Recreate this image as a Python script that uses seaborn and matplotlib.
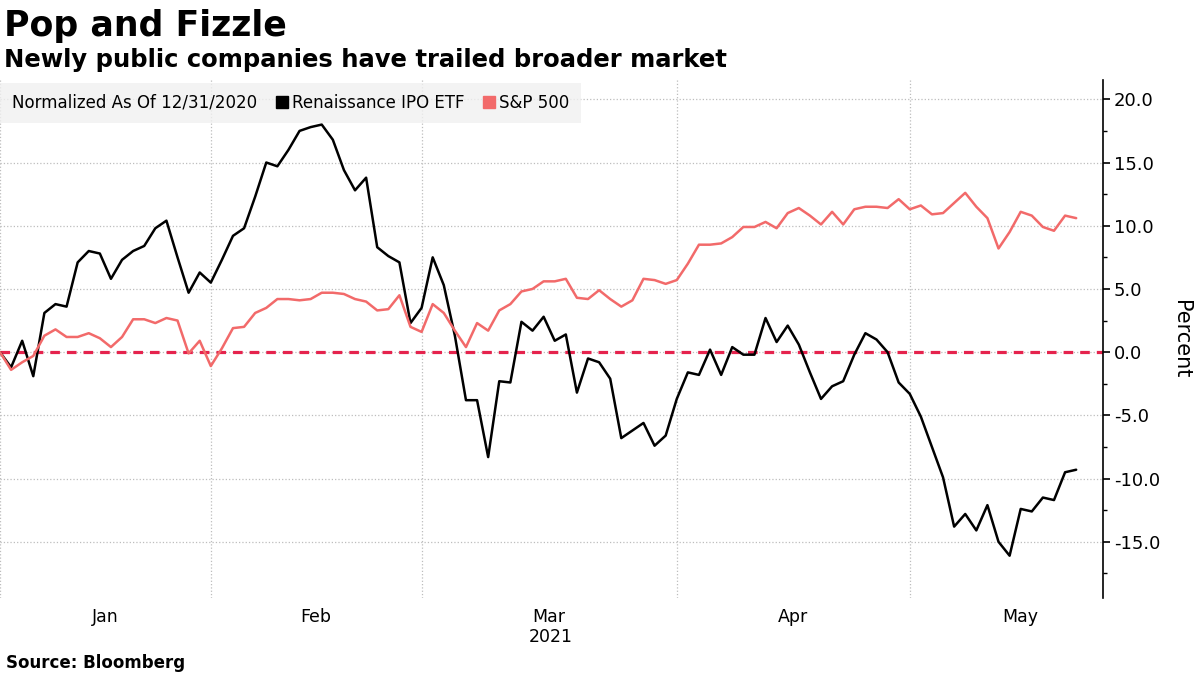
import pandas as pd
import matplotlib.pyplot as plt
import seaborn as sns
from matplotlib.lines import Line2D
from matplotlib.ticker import FixedLocator, MultipleLocator

# ============================================================
# Data: one point per trading day, normalized as of 12/31/2020 (percent)
# ============================================================
ipo_etf = [
    0.0, -1.2, 0.9, -1.9, 3.1, 3.8, 3.6, 7.1, 8.0, 7.8,
    5.8, 7.3, 8.0, 8.4, 9.8, 10.4, 7.5, 4.7, 6.3, 5.5,
    7.3, 9.2, 9.8, 12.3, 15.0, 14.7, 16.0, 17.5, 17.8, 18.0,
    16.8, 14.4, 12.8, 13.8, 8.3, 7.6, 7.1, 2.3, 3.5, 7.5,
    5.3, 1.3, -3.8, -3.8, -8.3, -2.3, -2.4, 2.4, 1.7, 2.8,
    0.9, 1.4, -3.2, -0.5, -0.8, -2.1, -6.8, -6.2, -5.6, -7.4,
    -6.6, -3.7, -1.6, -1.8, 0.2, -1.8, 0.4, -0.2, -0.2, 2.7,
    0.8, 2.1, 0.6, -1.6, -3.7, -2.7, -2.3, -0.2, 1.5, 1.0,
    0.0, -2.4, -3.3, -5.1, -7.5, -9.9, -13.8, -12.8, -14.1, -12.1,
    -15.0, -16.1, -12.4, -12.6, -11.5, -11.7, -9.5, -9.3,
]
sp500 = [
    0.0, -1.4, -0.8, -0.3, 1.3, 1.8, 1.2, 1.2, 1.5, 1.1,
    0.4, 1.2, 2.6, 2.6, 2.3, 2.7, 2.5, -0.1, 0.9, -1.1,
    0.3, 1.9, 2.0, 3.1, 3.5, 4.2, 4.2, 4.1, 4.2, 4.7,
    4.7, 4.6, 4.2, 4.0, 3.3, 3.4, 4.5, 2.0, 1.6, 3.8,
    3.1, 1.7, 0.4, 2.3, 1.7, 3.3, 3.8, 4.8, 5.0, 5.6,
    5.6, 5.8, 4.3, 4.2, 4.9, 4.2, 3.6, 4.1, 5.8, 5.7,
    5.4, 5.7, 7.0, 8.5, 8.5, 8.6, 9.1, 9.9, 9.9, 10.3,
    9.8, 11.0, 11.4, 10.8, 10.1, 11.1, 10.1, 11.3, 11.5, 11.5,
    11.4, 12.1, 11.3, 11.6, 10.9, 11.0, 11.8, 12.6, 11.5, 10.6,
    8.2, 9.5, 11.1, 10.8, 9.9, 9.6, 10.8, 10.6,
]
series_names = ['Renaissance IPO ETF', 'S&P 500']
month_labels = ['Jan', 'Feb', 'Mar', 'Apr', 'May']
month_starts = [0, 19, 38, 61, 82]      # trading-day index where each month begins
month_lengths = [19, 19, 23, 21, 20]    # trading days in each month
y_ticks = [-15, -10, -5, 0, 5, 10, 15, 20]

days = list(range(len(ipo_etf)))
df = pd.DataFrame({
    'day': days * 2,
    'value': ipo_etf + sp500,
    'series': [series_names[0]] * len(ipo_etf) + [series_names[1]] * len(sp500),
})

# ============================================================
# Plot
# ============================================================
sns.set_style('white')
plt.rcParams['font.family'] = ['DejaVu Sans']
plt.rcParams.update({'text.color': 'black', 'axes.labelcolor': 'black',
                     'xtick.color': 'black', 'ytick.color': 'black'})

BLACK = '#000000'
SALMON = '#f26a6a'
ZERO_RED = '#e5234d'
GRID = '#bdbdbd'

fig = plt.figure(figsize=(12, 6.75), dpi=100)
ax = fig.add_axes([0.0, 0.114, 0.919, 0.767])

ax.axhline(0, color=ZERO_RED, lw=2.3, ls=(0, (3, 2.2)), zorder=2)
sns.lineplot(data=df, x='day', y='value', hue='series', hue_order=series_names,
             palette=[BLACK, SALMON], linewidth=1.8, legend=False, ax=ax, zorder=3)

ax.set_xlim(0, 99.4)
ax.set_ylim(-19.45, 21.5)

# x axis: month gridlines at boundaries, labels centred in each month
ax.xaxis.set_minor_locator(FixedLocator(month_starts))
month_centres = [s + n / 2 for s, n in zip(month_starts, month_lengths)]
ax.set_xticks(month_centres)
ax.set_xticklabels(month_labels, fontsize=12.5)
ax.tick_params(axis='x', which='both', length=0, pad=7)
ax.grid(axis='x', which='minor', color=GRID, ls=':', lw=0.9)
ax.set_xlabel('')

# y axis on the right
ax.yaxis.tick_right()
ax.yaxis.set_label_position('right')
ax.set_yticks(y_ticks)
ax.set_yticklabels([f'{v:.1f}' for v in y_ticks], fontsize=13)
ax.yaxis.set_minor_locator(MultipleLocator(2.5))
ax.tick_params(axis='y', which='major', length=5, width=1.2, direction='out', pad=3)
ax.tick_params(axis='y', which='minor', length=3, width=1, direction='out')
ax.grid(axis='y', which='major', color=GRID, ls=':', lw=0.9)
ax.set_ylabel('Percent', fontsize=15, rotation=270, labelpad=22)

for side in ['top', 'left', 'bottom']:
    ax.spines[side].set_visible(False)
ax.spines['right'].set_color('black')
ax.spines['right'].set_linewidth(1.2)

# legend strip
handles = [
    Line2D([], [], ls='none', marker='s', markersize=0, color='none'),
    Line2D([], [], ls='none', marker='s', markersize=9, color=BLACK),
    Line2D([], [], ls='none', marker='s', markersize=9, color=SALMON),
]
labels = ['Normalized As Of 12/31/2020'] + series_names
leg = ax.legend(handles, labels, loc='upper left', bbox_to_anchor=(-14 / 1103, 0.995), ncol=3,
                frameon=True, fancybox=False, facecolor='#f0f0f0', edgecolor='#f0f0f0',
                fontsize=12, handlelength=0.6, handletextpad=0.3, columnspacing=1.2,
                borderpad=0.65, borderaxespad=0)
leg.get_frame().set_linewidth(0)
leg.set_zorder(5)

# titles and notes
fig.text(0.003, 0.962, 'Pop and Fizzle', fontsize=25, fontweight='bold', va='center', ha='left')
fig.text(0.003, 0.911, 'Newly public companies have trailed broader market', fontsize=17.5,
         fontweight='bold', va='center', ha='left')
fig.text(551 / 1200, 1 - 637 / 675, '2021', fontsize=12.5, ha='center', va='center')
fig.text(0.005, 1 - 663 / 675, 'Source: Bloomberg', fontsize=12, fontweight='bold',
         ha='left', va='center')

fig.savefig('out.png', dpi=100)
